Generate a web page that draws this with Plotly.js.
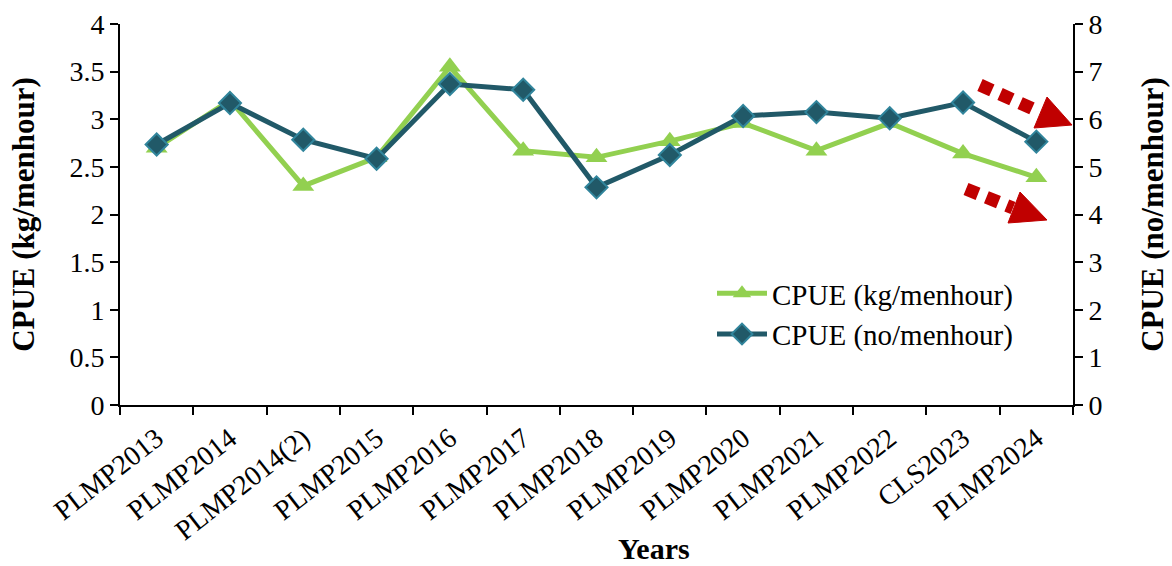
<!DOCTYPE html>
<html><head><meta charset="utf-8">
<script src="https://cdn.plot.ly/plotly-3.0.1.min.js"></script>
<style>body{margin:0;background:#fff}#chart{width:1172px;height:566px}</style>
</head><body><div id="chart"></div>
<script>
const categories = ["PLMP2013","PLMP2014","PLMP2014(2)","PLMP2015","PLMP2016","PLMP2017","PLMP2018","PLMP2019","PLMP2020","PLMP2021","PLMP2022","CLS2023","PLMP2024"];
const cpueKg = [2.7, 3.2, 2.3, 2.6, 3.55, 2.67, 2.6, 2.77, 2.96, 2.67, 2.96, 2.64, 2.39];
const cpueNo = [5.47, 6.34, 5.57, 5.17, 6.74, 6.62, 4.57, 5.25, 6.07, 6.15, 6.02, 6.35, 5.53];
const kgName = "CPUE (kg/menhour)";
const noName = "CPUE (no/menhour)";
const xTitle = "Years";

const W = 1172, H = 566, L = 120, R = 1073, T = 24, B = 405;
const px = x => (x - L) / (R - L);
const py = y => (B - y) / (B - T);
const red = "#c00000";
function arrow(x0, y0, x1, y1, tri) {
  return [
    {type: "line", xref: "paper", yref: "paper", x0: px(x0), y0: py(y0), x1: px(x1), y1: py(y1),
     line: {color: red, width: 13, dash: "13px,9px"}},
    {type: "path", xref: "paper", yref: "paper",
     path: "M " + tri.map(p => px(p[0]) + "," + py(p[1])).join(" L ") + " Z",
     fillcolor: red, line: {color: red, width: 1}}
  ];
}
const shapes = [].concat(
  arrow(980, 85, 1040, 112, [[1047, 97], [1072, 125], [1034, 128]]),
  arrow(966, 189, 1013, 208, [[1020, 192], [1047, 220], [1008, 223]])
);

const fam = '"Liberation Serif", "Times New Roman", serif';
const f = (size) => ({family: fam, size: size, color: "#000"});
const traces = [
  {x: categories, y: cpueKg, name: kgName, type: "scatter", mode: "lines+markers", yaxis: "y",
   line: {color: "#92d050", width: 5},
   marker: {symbol: "triangle-up", size: 19, color: "#92d050"}},
  {x: categories, y: cpueNo, name: noName, type: "scatter", mode: "lines+markers", yaxis: "y2",
   line: {color: "#215968", width: 5},
   marker: {symbol: "diamond", size: 17, color: "#215968", line: {color: "#31859c", width: 2}}}
];
const axBase = {ticks: "outside", ticklen: 8, tickwidth: 2, tickcolor: "#000", showline: true,
  linecolor: "#000", linewidth: 2, showgrid: false, zeroline: false, tickfont: f(28)};
const layout = {
  width: W, height: H,
  margin: {l: L, r: W - R, t: T, b: H - B},
  paper_bgcolor: "#fff", plot_bgcolor: "#fff",
  font: f(28),
  showlegend: true,
  legend: {x: px(712), y: py(268), xanchor: "left", yanchor: "top", bgcolor: "rgba(0,0,0,0)",
           font: f(29), tracegroupgap: 0, itemwidth: 50},
  hovermode: false,
  xaxis: Object.assign({}, axBase, {type: "category", range: [-0.5, categories.length - 0.5],
          tickson: "boundaries", tickangle: -38, tickfont: f(28), ticklabelstandoff: 4}),
  yaxis: Object.assign({}, axBase, {range: [0, 4], dtick: 0.5,
          title: {text: "<b>" + kgName + "</b>", font: f(31), standoff: 26}}),
  yaxis2: Object.assign({}, axBase, {range: [0, 8], dtick: 1, overlaying: "y", side: "right",
          title: {text: "<b>" + noName + "</b>", font: f(31), standoff: 40}}),
  annotations: [{text: "<b>" + xTitle + "</b>", xref: "paper", yref: "paper", x: px(654), y: py(566),
          showarrow: false, font: f(30), xanchor: "center", yanchor: "bottom", borderpad: 0}],
  shapes: shapes
};
Plotly.newPlot("chart", traces, layout, {displayModeBar: false, staticPlot: true});
</script></body></html>
